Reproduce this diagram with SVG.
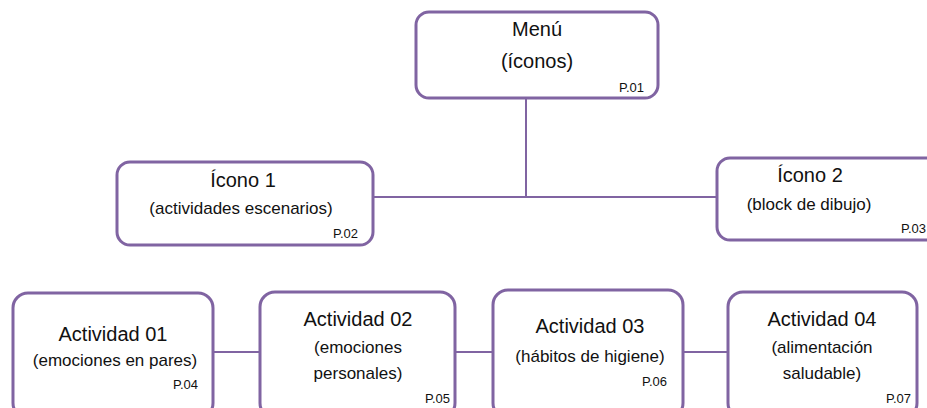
<svg xmlns="http://www.w3.org/2000/svg" width="927" height="408" viewBox="0 0 927 408">
<style>
.box{fill:#fff;stroke:#8064A2;stroke-width:3}
.ln{stroke:#8064A2;stroke-width:2;fill:none}
text{font-family:"Liberation Sans",Arial,sans-serif;fill:#111}
.t{font-size:20px;text-anchor:middle}
.s{font-size:17px;text-anchor:middle}
.p{font-size:13px;text-anchor:end}
</style>
<rect width="927" height="408" fill="#fff"/>
<g id="connectors">
<line class="ln" x1="526" y1="98" x2="526" y2="197"/>
<line class="ln" x1="373" y1="197" x2="717" y2="197"/>
<line class="ln" x1="213" y1="352" x2="260" y2="352"/>
<line class="ln" x1="455" y1="352" x2="493" y2="352"/>
<line class="ln" x1="683" y1="352" x2="728" y2="352"/>
</g>
<g id="menu">
<rect class="box" x="416" y="12" width="242" height="86" rx="13"/>
<text class="t" x="537" y="36">Menú</text>
<text class="t" x="537" y="68">(íconos)</text>
<text class="p" x="644" y="92">P.01</text>
</g>
<g id="icono1">
<rect class="box" x="117" y="162" width="256" height="83" rx="13"/>
<text class="t" x="243" y="187">Ícono 1</text>
<text class="s" x="241" y="214">(actividades escenarios)</text>
<text class="p" x="358" y="238">P.02</text>
</g>
<g id="icono2">
<rect class="box" x="717" y="158" width="230" height="82" rx="13"/>
<text class="t" x="810" y="182">Ícono 2</text>
<text class="s" x="809" y="210">(block de dibujo)</text>
<text class="p" x="926" y="233">P.03</text>
</g>
<g id="actividad01">
<rect class="box" x="13" y="293" width="200" height="125" rx="15"/>
<text class="t" x="113" y="341">Actividad 01</text>
<text class="s" x="115" y="366">(emociones en pares)</text>
<text class="p" x="198" y="389">P.04</text>
</g>
<g id="actividad02">
<rect class="box" x="260" y="292" width="195" height="126" rx="15"/>
<text class="t" x="358" y="326">Actividad 02</text>
<text class="s" x="358" y="353">(emociones</text>
<text class="s" x="358" y="379">personales)</text>
<text class="p" x="450" y="403">P.05</text>
</g>
<g id="actividad03">
<rect class="box" x="493" y="290" width="190" height="128" rx="15"/>
<text class="t" x="590" y="333">Actividad 03</text>
<text class="s" x="590" y="362">(hábitos de higiene)</text>
<text class="p" x="667" y="386">P.06</text>
</g>
<g id="actividad04">
<rect class="box" x="728" y="292" width="189" height="126" rx="15"/>
<text class="t" x="822" y="326">Actividad 04</text>
<text class="s" x="822" y="353">(alimentación</text>
<text class="s" x="822" y="379">saludable)</text>
<text class="p" x="911" y="403">P.07</text>
</g>
</svg>
